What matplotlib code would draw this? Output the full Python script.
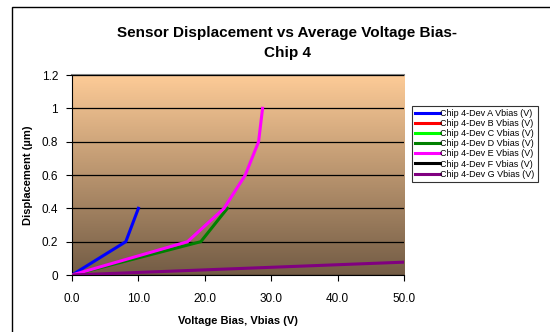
import numpy as np
import matplotlib.pyplot as plt
from matplotlib.colors import LinearSegmentedColormap
from matplotlib.patches import Rectangle

plt.rcParams['font.family'] = ['Liberation Sans', 'DejaVu Sans']

# series data (voltage bias V, displacement um)
labels = ['Chip 4-Dev A Vbias (V)', 'Chip 4-Dev B Vbias (V)', 'Chip 4-Dev C Vbias (V)',
          'Chip 4-Dev D Vbias (V)', 'Chip 4-Dev E Vbias (V)', 'Chip 4-Dev F Vbias (V)',
          'Chip 4-Dev G Vbias (V)']
colors = ['#0000FF', '#FF0000', '#00FF00', '#008000', '#FF00FF', '#000000', '#800080']

volt_a = [0, 8.1, 10.0]
disp_a = [0, 0.2, 0.4]
volt_b = []
disp_b = []
volt_c = []
disp_c = []
volt_d = [0, 19.4, 23.4]
disp_d = [0, 0.2, 0.4]
volt_e = [0, 17.4, 22.9, 26.1, 28.1, 28.7]
disp_e = [0, 0.2, 0.4, 0.6, 0.8, 1.0]
volt_f = []
disp_f = []
volt_g = [0, 50, 55]
disp_g = [0, 0.077, 0.085]

volts = [volt_a, volt_b, volt_c, volt_d, volt_e, volt_f, volt_g]
disps = [disp_a, disp_b, disp_c, disp_d, disp_e, disp_f, disp_g]

fig = plt.figure(figsize=(5.5, 3.32), dpi=100)
fig.patches.append(Rectangle((12/550, -0.1), 1.1, 1 - 7/332 + 0.1, transform=fig.transFigure,
                             fill=False, edgecolor='black', linewidth=1))

ax = fig.add_axes([72/550, 57/332, 332/550, 200/332])

# gradient background
cmap = LinearSegmentedColormap.from_list('bg', ['#735c45', '#fdcb97'])
grad = np.linspace(0, 1, 256).reshape(-1, 1)
ax.imshow(grad, cmap=cmap, aspect='auto', extent=[0, 1, 0, 1], origin='lower',
          transform=ax.transAxes, zorder=0)

for v, d, c, lab in zip(volts, disps, colors, labels):
    ax.plot(v, d, color=c, linewidth=2.2, label=lab, zorder=3, solid_joinstyle='miter')

ax.set_xlim(0, 50)
ax.set_ylim(0, 1.2)
ax.set_xticks(np.arange(0, 51, 10))
ax.set_xticklabels(['%.1f' % t for t in np.arange(0, 51, 10)])
ax.set_yticks(np.arange(0, 1.21, 0.2))
ax.set_yticklabels(['0', '0.2', '0.4', '0.6', '0.8', '1', '1.2'])
ax.yaxis.grid(True, color='black', linewidth=0.9, zorder=1)
ax.set_axisbelow(False)
ax.tick_params(axis='both', labelsize=8.5, direction='out', length=4, width=0.8, pad=6)
ax.tick_params(axis='x', pad=9)
ax.spines['top'].set_color('#808080')
ax.spines['top'].set_linewidth(1.5)
ax.spines['right'].set_visible(False)

ax.set_xlabel('Voltage Bias, Vbias (V)', fontsize=8, fontweight='bold', labelpad=8)
ax.set_ylabel('Displacement (\u00b5m)', fontsize=8, fontweight='bold', labelpad=6)

fig.text(287/550, 1 - 43/332, 'Sensor Displacement vs Average Voltage Bias-\nChip 4',
         ha='center', va='center', fontsize=11, fontweight='bold', linespacing=1.5)

leg = fig.legend(loc='upper left', bbox_to_anchor=(412/550, 1 - 106/332), fontsize=6.5,
                 frameon=True, fancybox=False, edgecolor='black', handlelength=2.7,
                 handletextpad=0.1, labelspacing=0.12, borderpad=0.35, borderaxespad=0)
leg.get_frame().set_linewidth(0.8)

fig.savefig('out.png', dpi=100)
